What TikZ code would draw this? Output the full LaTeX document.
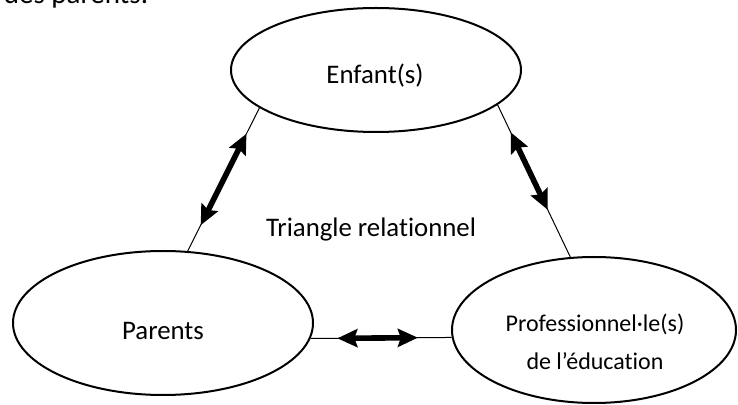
\documentclass[tikz,border=0pt]{standalone}
\usepackage{fontspec}
\setmainfont{Carlito}[Ligatures=NoCommon]
\usetikzlibrary{positioning, shapes.geometric, arrows.meta}

\begin{document}
\begin{tikzpicture}[x=0.5pt, y=-0.5pt,
	bulle/.style={ellipse, draw, line width=1pt, inner sep=0pt},
	txt/.style={anchor=base, inner sep=0pt, font=\fontsize{13.4}{16}\selectfont},
	lien/.style={line width=0.5pt},
	fleche/.style={line width=2.8pt, {Stealth[length=10pt,width=9pt,inset=1.5pt]}-{Stealth[length=10pt,width=9pt,inset=1.5pt]}} ]
	\useasboundingbox (0,0) rectangle (738,405);
	\clip (0,0) rectangle (738,405);

	% fin du texte au-dessus
	\node[txt, font=\fontsize{14.5}{17}\selectfont] (suite) at (76,4) {des parents.};

	% les trois pôles
	\node[bulle, minimum width=145pt, minimum height=62pt] (E) at (376,70)  {};
	\node[bulle, minimum width=150pt, minimum height=72pt] (P) at (163,323) {};
	\node[bulle, minimum width=142pt, minimum height=73pt] (S) at (594,330) {};

	\node[txt] (tE) at (375,84)  {Enfant(s)};
	\node[txt] (tP) at (163,340) {Parents};
	\node[txt] (tT) at (371,237) {Triangle relationnel};
	\node[inner sep=0pt, align=center, font=\fontsize{12}{19}\selectfont] (tS) at (595,342)
		{Professionnel·le(s)\\de l’éducation};

	% liens : (départ) -- (arrivée), flèche épaisse au milieu
	\draw[lien] (E.198) -- coordinate[pos=0.18] (ep1) coordinate[pos=0.82] (ep2) (P.71);
	\draw[lien] (E.344) -- coordinate[pos=0.18] (es1) coordinate[pos=0.69] (es2) (S.108);
	\draw[lien] (P.354) -- coordinate[pos=0.19] (ps1) coordinate[pos=0.76] (ps2) (S.183);

	\draw[fleche] (ep1) -- (ep2);
	\draw[fleche] (es1) -- (es2);
	\draw[fleche] (ps1) -- (ps2);
\end{tikzpicture}
\end{document}
